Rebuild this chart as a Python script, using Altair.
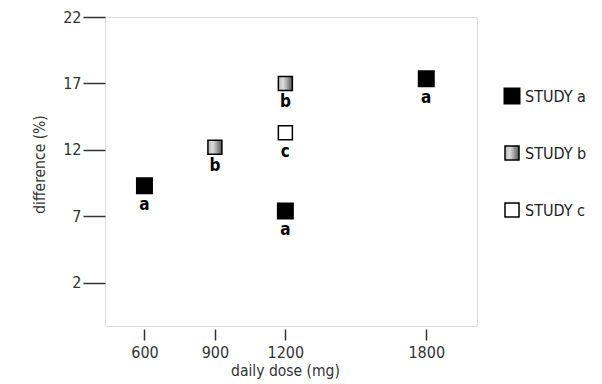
import altair as alt
import pandas as pd

# ---- data ----
dose = [600, 900, 1200, 1200, 1200, 1800]
difference = [9.3, 12.2, 17.0, 13.3, 7.4, 17.35]
study = ["a", "b", "b", "c", "a", "a"]

legend_labels = ["STUDY a", "STUDY b", "STUDY c"]
legend_keys = ["a", "b", "c"]
legend_order = [0, 1, 2]

x_ticks = [600, 900, 1200, 1800]
y_ticks = [2, 7, 12, 17, 22]

FONT = "DejaVu Sans Condensed, Liberation Sans, sans-serif"

df = pd.DataFrame({"dose": dose, "difference": difference, "study": study})
leg = pd.DataFrame({"label": legend_labels, "key": legend_keys, "order": legend_order})

grad = alt.Gradient(
    gradient="linear",
    x1=0, x2=1, y1=0, y2=0,
    stops=[
        alt.GradientStop(color="#b8b8b8", offset=0),
        alt.GradientStop(color="#dcdcdc", offset=0.35),
        alt.GradientStop(color="#555555", offset=1),
    ],
)

x_enc = alt.X(
    "dose:Q",
    scale=alt.Scale(domain=[432, 2016], nice=False, zero=False),
    axis=alt.Axis(
        values=x_ticks, format="d", title="daily dose (mg)", grid=False, domain=False,
        offset=3, tickSize=11, tickColor="#333", tickWidth=1.5,
        labelPadding=4, labelFontSize=16, labelColor="#333", labelFont=FONT,
        titleFontSize=15.5, titleFont=FONT, titleColor="#333", titleFontWeight="normal",
        titlePadding=3, titleX=180,
    ),
)
y_enc = alt.Y(
    "difference:Q",
    scale=alt.Scale(domain=[-1.25, 22], nice=False, zero=False),
    axis=alt.Axis(
        values=y_ticks, title="difference (%)", grid=False, domain=False,
        tickSize=22, tickColor="#333", tickWidth=1.5,
        labelPadding=2, labelFontSize=16, labelColor="#333", labelFont=FONT,
        titleFontSize=15.5, titleFont=FONT, titleColor="#333", titleFontWeight="normal",
        titlePadding=15, titleY=147,
    ),
)

base = alt.Chart(df).encode(x=x_enc, y=y_enc)

sq_a = base.transform_filter(alt.datum.study == "a").mark_square(
    size=225, fill="black", stroke="black", opacity=1, fillOpacity=1)
sq_b = base.transform_filter(alt.datum.study == "b").mark_square(
    size=196, fill=grad, stroke="black", strokeWidth=1.5, opacity=1, fillOpacity=1)
sq_c = base.transform_filter(alt.datum.study == "c").mark_square(
    size=196, fill="white", stroke="black", strokeWidth=1.5, opacity=1, fillOpacity=1)
labels = base.mark_text(
    dy=24, baseline="alphabetic", fontWeight="bold", fontSize=17, font=FONT, color="black"
).encode(text="study:N")

main = alt.layer(sq_a, sq_b, sq_c, labels).properties(width=372, height=309)

# ---- hand-built legend panel ----
ly = alt.Y(
    "order:Q",
    scale=alt.Scale(domain=[-1.386, 4.035], reverse=True, nice=False, zero=False),
    axis=None,
)
lbase = alt.Chart(leg).encode(y=ly)
l_a = lbase.transform_filter(alt.datum.key == "a").mark_square(
    size=225, fill="black", stroke="black", opacity=1, fillOpacity=1).encode(x=alt.value(13))
l_b = lbase.transform_filter(alt.datum.key == "b").mark_square(
    size=196, fill=grad, stroke="black", strokeWidth=1.5, opacity=1, fillOpacity=1).encode(x=alt.value(13))
l_c = lbase.transform_filter(alt.datum.key == "c").mark_square(
    size=196, fill="white", stroke="black", strokeWidth=1.5, opacity=1, fillOpacity=1).encode(x=alt.value(13))
l_text = lbase.mark_text(
    align="left", baseline="middle", dy=1, fontSize=16, font=FONT, color="#222"
).encode(x=alt.value(26), text="label:N")

legend_panel = alt.layer(l_a, l_b, l_c, l_text).properties(
    width=90, height=309, view=alt.ViewBackground(stroke="transparent")
)

chart = alt.hconcat(main, legend_panel, spacing=20).properties(
    padding={"left": 24, "top": 0, "right": 0, "bottom": 0}
).configure_view(stroke="#222", strokeWidth=1.5).configure(background="white")

chart.save("out.html", embed_options={"renderer": "svg", "actions": False})
